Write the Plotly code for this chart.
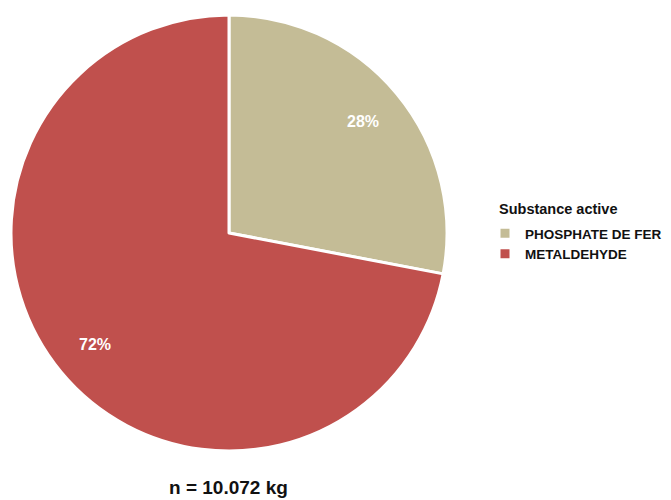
import math
import plotly.graph_objects as go

labels = ["PHOSPHATE DE FER", "METALDEHYDE"]
values = [28, 72]
colors = ["#C4BC96", "#C0504D"]
legend_title = "Substance active"
caption = "n = 10.072 kg"

W, H = 671, 500
dom_x = [11 / W, 447 / W]
dom_y = [1 - 451 / H, 1 - 15 / H]

fig = go.Figure(go.Pie(
    labels=labels,
    values=values,
    sort=False,
    direction="clockwise",
    rotation=0,
    marker=dict(colors=colors, line=dict(color="white", width=3)),
    textinfo="none",
    domain=dict(x=dom_x, y=dom_y),
    hoverinfo="label+percent",
))

# percentage labels placed along each slice's mid-angle
cx = (dom_x[0] + dom_x[1]) / 2 * W
cy = (1 - (dom_y[0] + dom_y[1]) / 2) * H
r = min((dom_x[1] - dom_x[0]) * W, (dom_y[1] - dom_y[0]) * H) / 2
total = sum(values)
annotations = []
cum = 0
for v in values:
    mid = (cum + v / 2) / total * 2 * math.pi
    cum += v
    px = cx + 0.8 * r * math.sin(mid)
    py = cy - 0.8 * r * math.cos(mid)
    annotations.append(dict(
        text="<b>%d%%</b>" % round(100 * v / total),
        x=px / W, y=1 - py / H, xref="paper", yref="paper",
        xanchor="center", yanchor="middle", showarrow=False,
        font=dict(size=16, color="white"),
    ))

annotations.append(dict(
    text="<b>" + legend_title + "</b>",
    x=497 / W, y=1 - 209 / H, xref="paper", yref="paper",
    xanchor="left", yanchor="middle", showarrow=False,
    font=dict(size=14.5, color="#111111"),
))
annotations.append(dict(
    text="<b>" + caption + "</b>",
    x=228 / W, y=1 - 487 / H, xref="paper", yref="paper",
    xanchor="center", yanchor="middle", showarrow=False,
    font=dict(size=19, color="#111111"),
))

fig.update_layout(
    width=W, height=H,
    margin=dict(l=0, r=0, t=0, b=0),
    paper_bgcolor="white",
    plot_bgcolor="white",
    font=dict(family="Liberation Sans, Arial", color="#111111"),
    showlegend=True,
    legend=dict(
        font=dict(size=13.5, color="#111111", weight="bold"),
        x=485 / W, xanchor="left",
        y=1 - 218 / H, yanchor="top",
        itemwidth=30,
        tracegroupgap=0,
    ),
    annotations=annotations,
)

fig.write_html("out.html")
